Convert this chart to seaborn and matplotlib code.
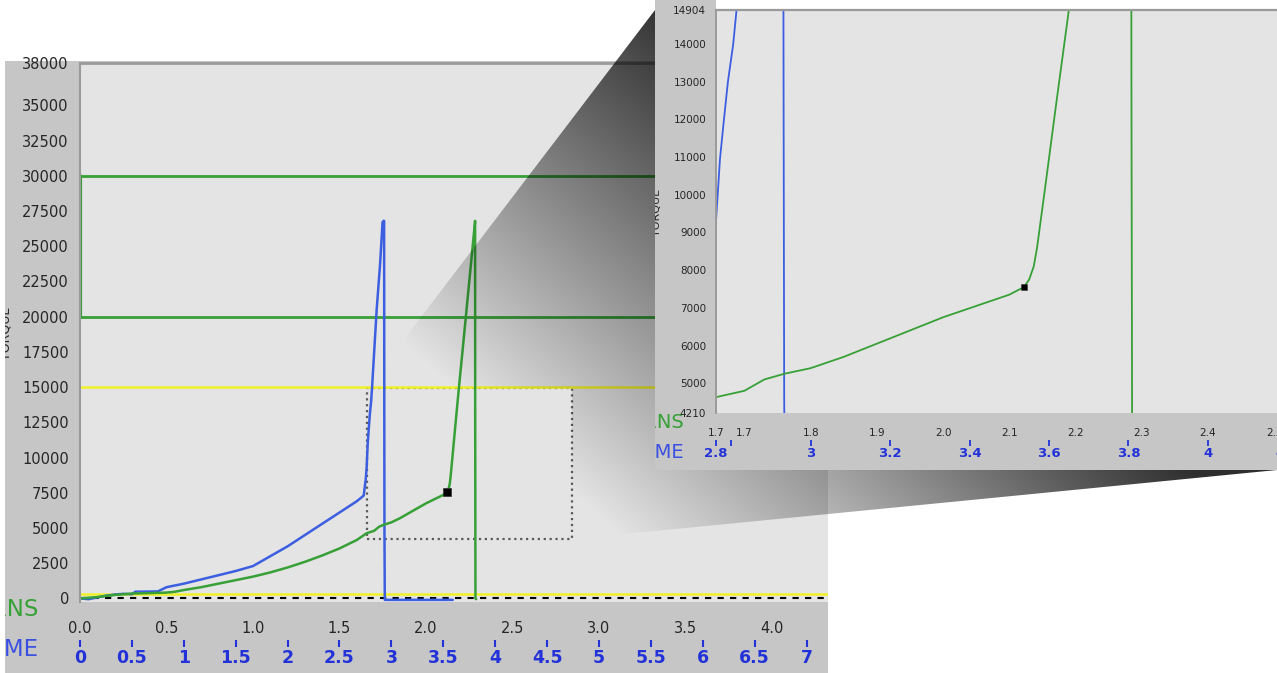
import numpy as np
import matplotlib
matplotlib.use("Agg")
import matplotlib.pyplot as plt
from matplotlib.patches import Polygon, Rectangle
import seaborn as sns

# ---- data ----
blue_turns = [0.0, 0.05, 0.1, 0.15, 0.2, 0.25, 0.3, 0.32, 0.45, 0.5, 0.6, 0.7, 0.8, 0.9,
              1.0, 1.1, 1.2, 1.3, 1.4, 1.5, 1.6, 1.64, 1.652, 1.657, 1.663, 1.669, 1.675,
              1.683, 1.688, 1.715, 1.734, 1.749, 1.755, 1.758, 1.759, 1.760, 1.762, 2.155]
blue_torque = [0, -50, 80, 200, 280, 330, 300, 480, 500, 800, 1050, 1350, 1650, 1950,
               2300, 3000, 3700, 4500, 5300, 6100, 6900, 7300, 8500, 9300, 10950, 12000, 13000,
               14000, 14904, 20500, 23600, 26700, 26800, 26800, 13500, 4600, -100, -100]

green_turns = [0.0, 0.05, 0.1, 0.2, 0.3, 0.4, 0.5, 0.55, 0.6, 0.7, 0.8, 0.9, 1.0, 1.1, 1.2,
               1.3, 1.4, 1.5, 1.6, 1.657, 1.7, 1.73, 1.76, 1.8, 1.85, 1.9, 1.95, 2.0, 2.05,
               2.1, 2.122, 2.13, 2.137, 2.142, 2.155, 2.17, 2.18, 2.19, 2.21, 2.24, 2.27,
               2.284, 2.2845, 2.286, 2.29]
green_torque = [0, 50, 100, 250, 350, 380, 420, 480, 600, 800, 1050, 1300, 1550, 1850, 2200,
                2600, 3050, 3550, 4150, 4630, 4800, 5100, 5250, 5400, 5700, 6050, 6400, 6750, 7050,
                7350, 7550, 7750, 8100, 8600, 10300, 12300, 13600, 14904, 17400, 21200, 25000,
                26800, 13400, 0, -50]

marker_turns = [2.122]
marker_torque = [7553]

limit_hi = 30000
limit_lo = 20000
warn_level = 15000
base_level = 300

zoom_turns = [1.657, 2.844]
zoom_torque = [4210, 14904]

main_xticks = [0.0, 0.5, 1.0, 1.5, 2.0, 2.5, 3.0, 3.5, 4.0]
main_time_ticks = [0, 0.5, 1, 1.5, 2, 2.5, 3, 3.5, 4, 4.5, 5, 5.5, 6, 6.5, 7]
main_yticks = [0, 2500, 5000, 7500, 10000, 12500, 15000, 17500, 20000, 22500, 25000,
               27500, 30000, 32500, 35000, 37500, 38000]
main_ylabels = ["" if v == 37500 else str(v) for v in main_yticks]

inset_xticks = [1.657, 1.7, 1.8, 1.9, 2.0, 2.1, 2.2, 2.3, 2.4, 2.5, 2.6, 2.7, 2.8]
inset_time_ticks = [2.762, 2.8, 3.0, 3.2, 3.4, 3.6, 3.8, 4.0, 4.2, 4.4, 4.6]
inset_time_labels = ["2.8", "", "3", "3.2", "3.4", "3.6", "3.8", "4", "4.2", "4.4", "4.6"]
inset_yticks = [4210, 5000, 6000, 7000, 8000, 9000, 10000, 11000, 12000, 13000, 14000, 14904]

# ---- style ----
BLUE = "#3c5ee0"
GREEN = "#37a037"
YELLOW = "#f0f028"
PANEL = "#c6c6c6"
PLOTBG = "#e4e4e4"
TXT = "#262626"
TIMEBLUE = "#2232d8"
SPINE = "#9a9a9a"

W, H = 1277, 673
sns.set_style("white")
plt.rcParams["font.family"] = ["DejaVu Sans"]

fig = plt.figure(figsize=(W / 100, H / 100), dpi=100)


def box(x0, y0, x1, y1):
    # pixel box (y from the top) -> figure fraction
    return [x0 / W, 1 - y1 / H, (x1 - x0) / W, (y1 - y0) / H]


def bare(a):
    a.set_xticks([])
    a.set_yticks([])
    for s in a.spines.values():
        s.set_visible(False)


to_time = (lambda t: np.asarray(t) * 5 / 3, lambda t: np.asarray(t) * 0.6)

# ============================
# main chart
# ============================
pan = fig.add_axes(box(5, 61, 828, 673), facecolor=PANEL, zorder=0)
pan.set_xlim(5, 828)
pan.set_ylim(673, 61)
bare(pan)
pan.text(38, 609, "TURNS", ha="right", va="center", fontsize=16.5, color=GREEN, clip_on=True)
pan.text(38, 650, "TIME", ha="right", va="center", fontsize=16.5, color="#3a50e0", clip_on=True)
pan.text(6, 333, "TORQUE", rotation=90, ha="center", va="center", fontsize=9, color=TXT,
         clip_on=True)

ax = fig.add_axes(box(80, 63, 828, 602), facecolor=PLOTBG, zorder=1)
ax.set_xlim(0, 4.324)
ax.set_ylim(-250, 38000)

ax.axhline(limit_hi, color=GREEN, lw=2)
ax.axhline(limit_lo, color=GREEN, lw=2)
ax.plot([0, 0], [limit_lo, limit_hi], color=GREEN, lw=3)
ax.axhline(warn_level, color=YELLOW, lw=1.8)
ax.axhline(base_level, color=YELLOW, lw=1.8)
ax.axhline(0, color="black", lw=1.5, ls=(0, (3, 3)))

sns.lineplot(x=blue_turns, y=blue_torque, sort=False, estimator=None, color=BLUE, lw=1.8, ax=ax)
sns.lineplot(x=green_turns, y=green_torque, sort=False, estimator=None, color=GREEN, lw=1.8, ax=ax)
sns.scatterplot(x=marker_turns, y=marker_torque, marker="s", s=40, color="black",
                edgecolor="#333", ax=ax, zorder=5)
ax.add_patch(Rectangle((zoom_turns[0], zoom_torque[0]), zoom_turns[1] - zoom_turns[0],
                       zoom_torque[1] - zoom_torque[0], fill=False, ls=":", lw=1.6, ec="#5a5a5a"))

ax.set_xlabel("")
ax.set_ylabel("")
ax.set_xticks(main_xticks)
ax.set_xticklabels([f"{v:.1f}" for v in main_xticks])
ax.set_yticks(main_yticks)
ax.set_yticklabels(main_ylabels)
ax.tick_params(colors=TXT, labelsize=10.5, length=6, width=1.5, direction="out")
ax.tick_params(axis="x", pad=3)
ax.tick_params(axis="y", pad=2)
ax.spines["bottom"].set_position(("outward", 5))
ax.spines["bottom"].set_visible(False)
ax.spines["right"].set_visible(False)
ax.spines["top"].set_color(SPINE)
ax.spines["top"].set_linewidth(2)
ax.spines["left"].set_color(SPINE)
ax.spines["left"].set_linewidth(1.5)

sec = ax.secondary_xaxis(-0.07, functions=to_time)
sec.set_xticks(main_time_ticks)
sec.set_xticklabels([f"{t:g}" for t in main_time_ticks], fontweight="bold")
sec.tick_params(colors=TIMEBLUE, length=5, width=1.5, labelsize=12.5, pad=2)
sec.spines["bottom"].set_visible(False)

# ============================
# zoom cone (from the dotted box to the inset)
# ============================
ix0, iy_top, iy_bot = 655, 10, 470  # inset panel, pixels from the top
cone = fig.add_axes([0, 0, 1, 1], zorder=2)
cone.set_xlim(0, W)
cone.set_ylim(0, H)
cone.axis("off")
cone.patch.set_visible(False)

tl = ax.transData.transform((zoom_turns[0], zoom_torque[1]))
tr = ax.transData.transform((zoom_turns[1], zoom_torque[1]))
br = ax.transData.transform((zoom_turns[1], zoom_torque[0]))
verts = [tuple(tl), (ix0, H - iy_top), (W, H - iy_top), (W, H - iy_bot), tuple(br), tuple(tr)]

gx, gy = np.meshgrid(np.arange(W) + 0.5, np.arange(H) + 0.5)
shade = 232 - 0.29 * gx + 0.328 * gy
rgba = np.zeros((H, W, 4))
rgba[..., 3] = np.clip(1 - shade / 228, 0, 0.82)
im = cone.imshow(rgba, extent=(0, W, 0, H), origin="upper", interpolation="bilinear", aspect="auto")
im.set_clip_path(Polygon(verts, closed=True, transform=cone.transData))

# ============================
# inset (zoomed view)
# ============================
ipan = fig.add_axes(box(ix0, 0, W, iy_bot), facecolor="none", zorder=3)
ipan.set_xlim(ix0, W)
ipan.set_ylim(iy_bot, 0)
bare(ipan)
ipan.add_patch(Rectangle((ix0, 0), 61, iy_bot, color=PANEL, lw=0))
ipan.add_patch(Rectangle((ix0, 413), W - ix0, iy_bot - 413, color=PANEL, lw=0))
ipan.text(684, 422, "TURNS", ha="right", va="center", fontsize=14, color=GREEN, clip_on=True)
ipan.text(684, 452, "TIME", ha="right", va="center", fontsize=14, color="#3a50e0", clip_on=True)
ipan.text(657, 212, "TORQUE", rotation=90, ha="center", va="center", fontsize=8, color=TXT,
          clip_on=True)

span_px = (zoom_turns[1] - zoom_turns[0]) * 662
axi = fig.add_axes(box(716, iy_top, 716 + span_px, 413), facecolor=PLOTBG, zorder=4)
axi.set_xlim(zoom_turns)
axi.set_ylim(zoom_torque)
sns.lineplot(x=blue_turns, y=blue_torque, sort=False, estimator=None, color=BLUE, lw=1.3, ax=axi)
sns.lineplot(x=green_turns, y=green_torque, sort=False, estimator=None, color=GREEN, lw=1.3, ax=axi)
sns.scatterplot(x=marker_turns, y=marker_torque, marker="s", s=22, color="black",
                edgecolor="#333", ax=axi, zorder=5)

axi.set_xlabel("")
axi.set_ylabel("")
axi.set_xticks(inset_xticks)
axi.set_xticklabels([f"{v:.1f}" for v in inset_xticks])
axi.set_yticks(inset_yticks)
axi.set_yticklabels([str(v) for v in inset_yticks])
axi.tick_params(colors=TXT, labelsize=7.5, length=5, width=1.2, direction="out", pad=2)
axi.spines["bottom"].set_position(("outward", 4))
axi.spines["bottom"].set_visible(False)
axi.spines["right"].set_visible(False)
axi.spines["top"].set_color(SPINE)
axi.spines["top"].set_linewidth(1.6)
axi.spines["left"].set_color(SPINE)
axi.spines["left"].set_linewidth(1.4)

isec = axi.secondary_xaxis(-0.067, functions=to_time)
isec.set_xticks(inset_time_ticks)
isec.set_xticklabels(inset_time_labels, fontweight="bold")
isec.tick_params(colors=TIMEBLUE, length=4, width=1.3, labelsize=9.5, pad=1)
isec.spines["bottom"].set_visible(False)

fig.savefig("out.png", dpi=100)
